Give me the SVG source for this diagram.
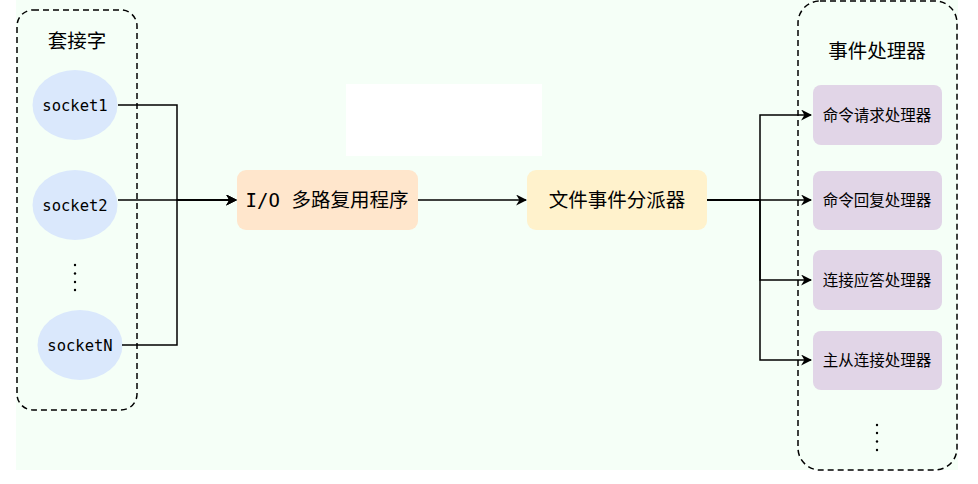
<svg xmlns="http://www.w3.org/2000/svg" width="978" height="484" viewBox="0 0 978 484">
<defs>
<marker id="arr" viewBox="0 0 10 10" refX="9" refY="5" markerWidth="11" markerHeight="11" markerUnits="userSpaceOnUse" orient="auto">
<path d="M0,0 L10,5 L0,10 L3,5 Z" fill="#000"/>
</marker>
<style>
.grp{fill:none;stroke:#000;stroke-width:1.5;stroke-dasharray:6 4}
.sock{fill:#dae8fc}
.mono{font-family:"DejaVu Sans Mono","Liberation Mono",monospace;font-size:15.5px;fill:#000}
.cjk{font-family:"Noto Sans CJK SC","Noto Sans",sans-serif;fill:#000}
.h{font-size:15.5px}
.t{font-size:19.5px}
.m{font-size:19.5px}
.hand{fill:#e1d5e7}
.ln{fill:none;stroke:#000;stroke-width:1.5}
.dot{fill:#000}
</style>
</defs>
<rect x="16" y="0" width="942" height="470" fill="#f5fff7"/>
<rect x="346" y="84" width="196" height="72" fill="#ffffff"/>

<g id="sockets">
<rect class="grp" x="17" y="10" width="120" height="400" rx="16"/>
<text class="cjk t" x="77" y="48" text-anchor="middle">套接字</text>
</g>
<g id="socket1"><ellipse class="sock" cx="75" cy="105" rx="42.5" ry="35"/><text class="mono" x="75" y="111" text-anchor="middle">socket1</text></g>
<g id="socket2"><ellipse class="sock" cx="75" cy="205" rx="42.5" ry="35"/><text class="mono" x="75" y="211" text-anchor="middle">socket2</text></g>
<g id="socketDots"><circle class="dot" cx="75" cy="265" r="1.2"/><circle class="dot" cx="75" cy="273.5" r="1.2"/><circle class="dot" cx="75" cy="282" r="1.2"/><circle class="dot" cx="75" cy="290" r="1.2"/></g>
<g id="socketN"><ellipse class="sock" cx="80" cy="345" rx="42.5" ry="35"/><text class="mono" x="80" y="351" text-anchor="middle">socketN</text></g>

<g id="multiplexer"><rect x="237" y="170" width="181" height="60" rx="9" fill="#ffe6cc"/><text x="327" y="207" text-anchor="middle"><tspan class="mono" style="font-size:19px">I/O </tspan><tspan class="cjk m">多路复用程序</tspan></text></g>
<g id="dispatcher"><rect x="527" y="170" width="180" height="60" rx="9" fill="#fff2cc"/><text class="cjk m" x="617" y="207" text-anchor="middle">文件事件分派器</text></g>

<g id="handlers">
<rect class="grp" x="798" y="1" width="159" height="469" rx="22"/>
<text class="cjk t" x="877" y="58" text-anchor="middle">事件处理器</text>
</g>
<g id="h1"><rect class="hand" x="813" y="85" width="129" height="60" rx="8"/><text class="cjk h" x="877" y="121" text-anchor="middle">命令请求处理器</text></g>
<g id="h2"><rect class="hand" x="813" y="171" width="129" height="59" rx="8"/><text class="cjk h" x="877" y="206" text-anchor="middle">命令回复处理器</text></g>
<g id="h3"><rect class="hand" x="813" y="250" width="129" height="60" rx="8"/><text class="cjk h" x="877" y="286" text-anchor="middle">连接应答处理器</text></g>
<g id="h4"><rect class="hand" x="813" y="331" width="129" height="59" rx="8"/><text class="cjk h" x="877" y="366" text-anchor="middle">主从连接处理器</text></g>
<g id="handlerDots"><circle class="dot" cx="877" cy="425" r="1.2"/><circle class="dot" cx="877" cy="433" r="1.2"/><circle class="dot" cx="877" cy="441.5" r="1.2"/><circle class="dot" cx="877" cy="450" r="1.2"/></g>

<g id="connectors">
<path class="ln" d="M118,105 H177 V200 H236" marker-end="url(#arr)"/>
<path class="ln" d="M122,345 H177 V200 H236" marker-end="url(#arr)"/>
<path class="ln" d="M118,200 H236" marker-end="url(#arr)"/>
<path class="ln" d="M418,200 H526" marker-end="url(#arr)"/>
<path class="ln" d="M707,200 H760 V115 H811" marker-end="url(#arr)"/>
<path class="ln" d="M707,200 H811" marker-end="url(#arr)"/>
<path class="ln" d="M707,200 H760 V280 H811" marker-end="url(#arr)"/>
<path class="ln" d="M707,200 H760 V360 H811" marker-end="url(#arr)"/>
</g>
</svg>
